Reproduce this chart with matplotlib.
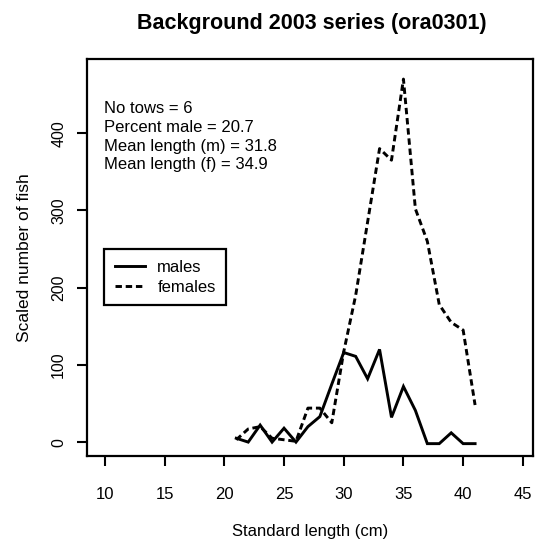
import matplotlib; matplotlib.use('Agg')
import matplotlib.pyplot as plt

plt.rcParams['font.family'] = ['Liberation Sans', 'DejaVu Sans']

# length-frequency, 1 cm bins
length = list(range(21, 42))
males = [5, 0, 22, 0, 18, 0, 20, 33, 75, 116, 111, 82, 120, 32, 72, 41, -2, -2, 12, -2, -2]
females = [3, 17, 20, 5, 3, 1, 44, 44, 25, 117, 190, 285, 380, 365, 470, 302, 260, 178, 155, 145, 48]
xticks = [10, 15, 20, 25, 30, 35, 40, 45]
yticks = [0, 100, 200, 300, 400]
stats = ['No tows = 6', 'Percent male = 20.7', 'Mean length (m) = 31.8', 'Mean length (f) = 34.9']

fig = plt.figure(figsize=(5.43, 5.45), dpi=100)
ax = fig.add_axes([87/543, 1-456/545, 446/543, 397/545])

ax.plot(length, males, color='black', lw=2.1, solid_joinstyle='miter', label='males')
ax.plot(length, females, color='black', lw=2.1, linestyle=(0, (2.2, 1.3)), label='females')

ax.set_xlim(8.5, 45.85)
ax.set_ylim(-18, 496)
ax.set_xticks(xticks)
ax.set_yticks(yticks)
ax.tick_params(direction='out', length=7, width=1.5, labelsize=12, top=False, right=False)
ax.tick_params(axis='x', pad=15)
ax.tick_params(axis='y', pad=8, labelsize=11.5)
for lab in ax.get_yticklabels():
    lab.set_rotation(90); lab.set_va('center')
for s in ax.spines.values():
    s.set_linewidth(1.6)

ax.set_xlabel('Standard length (cm)', fontsize=12, labelpad=16)
ax.set_ylabel('Scaled number of fish', fontsize=12.5, labelpad=14)
fig.text(312/543, 1-24/545, 'Background 2003 series (ora0301)', fontsize=15.5,
         fontweight='bold', ha='center', va='center')

ax.text(0.038, 0.893, '\n'.join(stats), transform=ax.transAxes, fontsize=12,
        va='top', ha='left', linespacing=1.3)

leg = ax.legend(loc='upper left', bbox_to_anchor=(0.038, 0.522), fontsize=12,
                fancybox=False, edgecolor='black', framealpha=1, borderaxespad=0,
                handlelength=1.8, handletextpad=0.75, labelspacing=0.3, borderpad=0.65)
leg.get_frame().set_linewidth(1.6)

fig.savefig('out.png', dpi=100, facecolor='white')
